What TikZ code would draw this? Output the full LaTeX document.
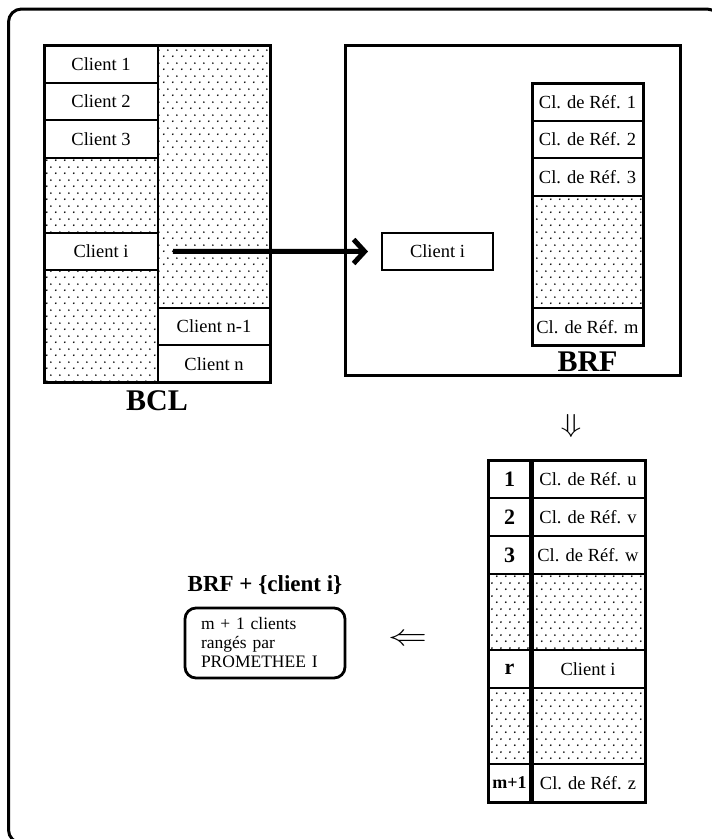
\documentclass[tikz,border=0pt]{standalone}
\usepackage{fontspec}
\setmainfont{Liberation Serif}
\usepackage{amsmath,amssymb,graphicx}
\usetikzlibrary{positioning,arrows.meta,patterns,fit}

\pgfdeclarepatternformonly{scandots}{\pgfpointorigin}{\pgfpoint{9pt}{13pt}}{\pgfpoint{9pt}{13pt}}{%
  \pgfpathcircle{\pgfpoint{2pt}{3pt}}{1pt}%
  \pgfpathcircle{\pgfpoint{6.5pt}{9.5pt}}{1pt}%
  \pgfusepath{fill}}

\newcommand{\txtsize}{\fontsize{18.5}{19.5}\selectfont}
\newcommand{\boxsize}{\fontsize{17.5}{19}\selectfont}
\newcommand{\numsize}{\fontsize{22}{24}\selectfont\bfseries}
\newcommand{\labsize}{\fontsize{30}{32}\selectfont\bfseries}

\tikzset{
  cell/.style={draw,line width=2pt,outer sep=0pt,inner sep=0pt,minimum width=114pt,minimum height=37.5pt,font=\txtsize},
  dotcell/.style={cell,pattern=scandots},
  refcell/.style={cell,minimum width=111pt},
  numcell/.style={cell,minimum width=43pt,minimum height=38pt,font=\numsize},
  rankcell/.style={cell,minimum width=114pt,minimum height=38pt},
  tblframe/.style={draw,line width=3pt,inner sep=0pt,outer sep=0pt},
  lab/.style={inner sep=0pt,font=\labsize},
  roundbox/.style={draw,line width=2.8pt,rounded corners=11pt,minimum width=160pt,minimum height=70pt,text width=128pt,align=left,inner sep=0pt,font=\boxsize},
  bigarrow/.style={line width=5pt,-{Straight Barb[length=11pt,width=24pt]}}
}

\begin{document}
\begin{tikzpicture}[x=1pt,y=-1pt,node distance=0pt]
  \useasboundingbox (0,0) rectangle (712,839);
  \clip (0,0) rectangle (712,839);
  \draw[line width=3pt,rounded corners=13pt] (8.5,9) rectangle (720,843);

  % BCL
  \node[cell,anchor=north west] (c1) at (44,45) {Client 1};
  \node[cell,below=of c1] (c2) {Client 2};
  \node[cell,below=of c2] (c3) {Client 3};
  \node[dotcell,below=of c3,minimum height=75pt] (cd1) {};
  \node[cell,below=of cd1] (ci) {Client i};
  \node[dotcell,below=of ci,minimum height=112.5pt] (cd2) {};
  \node[dotcell,anchor=north west,minimum width=112pt,minimum height=262.5pt] (cd3) at (c1.north east) {};
  \node[cell,below=of cd3,minimum width=112pt] (cn1) {Client n-1};
  \node[cell,below=of cn1,minimum width=112pt] (cn) {Client n};
  \node[tblframe,fit=(c1)(cn)] (bcl) {};
  \node[lab,below=8pt of bcl] (bcllab) {BCL};

  % BRF
  \node[tblframe,anchor=north west,minimum width=335pt,minimum height=330pt] (brf) at (345,45) {};
  \node[refcell] (cib) at (437.5,251.5) {Client i};
  \node[refcell,anchor=north west] (r1) at (532,83) {Cl. de Réf. 1};
  \node[refcell,below=of r1] (r2) {Cl. de Réf. 2};
  \node[refcell,below=of r2] (r3) {Cl. de Réf. 3};
  \node[refcell,dotcell,below=of r3,minimum width=111pt,minimum height=112.5pt] (rd) {};
  \node[refcell,below=of rd] (rm) {Cl. de Réf. m};
  \node[tblframe,fit=(r1)(rm)] (brftab) {};
  \node[lab,below=6pt of brftab] (brflab) {BRF};

  \draw[bigarrow] ([xshift=15pt]ci.east) -- ([xshift=-14pt]cib.west);

  \node (down) at (571,426) {\scalebox{3.4}[2.6]{$\Downarrow$}};

  % ranking
  \node[numcell,anchor=north west] (k1) at (488,460) {1};
  \node[numcell,below=of k1] (k2) {2};
  \node[numcell,below=of k2] (k3) {3};
  \node[numcell,dotcell,below=of k3,minimum width=43pt,minimum height=76pt] (kd1) {};
  \node[numcell,below=of kd1] (kr) {r};
  \node[numcell,dotcell,below=of kr,minimum width=43pt,minimum height=76pt] (kd2) {};
  \node[numcell,below=of kd2,font=\fontsize{18}{20}\selectfont\bfseries] (km) {m+1};
  \node[rankcell,right=of k1] (u1) {Cl. de Réf. u};
  \node[rankcell,below=of u1] (u2) {Cl. de Réf. v};
  \node[rankcell,below=of u2] (u3) {Cl. de Réf. w};
  \node[rankcell,dotcell,below=of u3,minimum height=76pt] (ud1) {};
  \node[rankcell,below=of ud1] (ur) {Client i};
  \node[rankcell,dotcell,below=of ur,minimum height=76pt] (ud2) {};
  \node[rankcell,below=of ud2] (um) {Cl. de Réf. z};
  \node[tblframe,fit=(k1)(um)] (rank) {};
  \draw[line width=5pt] (k1.north east) -- (km.south east);

  \node (left) at (408,640) {\scalebox{3.9}[3]{$\Leftarrow$}};

  % result
  \node[font=\fontsize{23}{25}\selectfont\bfseries] (brfi) at (265,585) {BRF + \{client i\}};
  \node[roundbox] (prom) at (265,643) {m + 1 clients\\rangés par\\PROMETHEE I};
\end{tikzpicture}
\end{document}
